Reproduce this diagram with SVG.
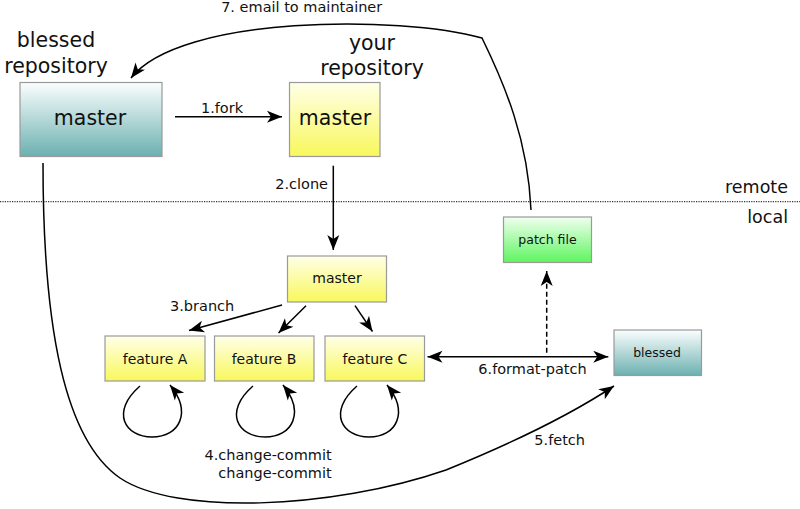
<svg xmlns="http://www.w3.org/2000/svg" width="800" height="509" viewBox="0 0 800 509">
<defs>
<linearGradient id="gTeal" x1="0" y1="0" x2="0" y2="1"><stop offset="0" stop-color="#fbfefe"/><stop offset="1" stop-color="#6cb0b0"/></linearGradient>
<linearGradient id="gYellow" x1="0" y1="0" x2="0" y2="1"><stop offset="0" stop-color="#ffffe8"/><stop offset="1" stop-color="#f8f85c"/></linearGradient>
<linearGradient id="gGreen" x1="0" y1="0" x2="0" y2="1"><stop offset="0" stop-color="#f0fff0"/><stop offset="1" stop-color="#5ef55e"/></linearGradient>
<marker id="ah" markerUnits="userSpaceOnUse" markerWidth="18" markerHeight="14" viewBox="-16 -7 18 14" refX="0" refY="0" orient="auto-start-reverse">
<path d="M0,0 L-15,-6 L-11,0 L-15,6 Z" fill="#000"/>
</marker>
<style>
.box{stroke:#9a9a9a;stroke-width:1.2}
.teal{fill:url(#gTeal)}
.yel{fill:url(#gYellow)}
.grn{fill:url(#gGreen)}
text{font-family:"DejaVu Sans","Liberation Sans",sans-serif;fill:#111}
.big{font-size:20.5px}
.mid{font-size:14px}
.lbl{font-size:14.5px}
.sm{font-size:12.5px}
.side{font-size:17.5px}
.c{text-anchor:middle}
.e{text-anchor:end}
.ln{fill:none;stroke:#000;stroke-width:1.5}
.arr{marker-end:url(#ah)}
</style>
</defs>

<line x1="0" y1="201.7" x2="800" y2="201.7" stroke="#333" stroke-width="1.2" stroke-dasharray="1.2,1.2"/>
<text class="side e" x="788" y="192.5">remote</text>
<text class="side e" x="788" y="222.5">local</text>

<text class="big c" x="56" y="47">blessed</text>
<text class="big c" x="56" y="72.5">repository</text>
<text class="big c" x="372" y="50">your</text>
<text class="big c" x="372" y="75">repository</text>

<g id="blessed-master"><rect class="box teal" x="20" y="82.5" width="142" height="74"/><text class="big c" x="90" y="124.5">master</text></g>
<g id="your-master"><rect class="box yel" x="289.5" y="82.5" width="90.5" height="74"/><text class="big c" x="335" y="124.5">master</text></g>
<g id="local-master"><rect class="box yel" x="287.5" y="256" width="99" height="46"/><text class="mid c" x="337" y="283">master</text></g>
<g id="feature-a"><rect class="box yel" x="105" y="336" width="100" height="45"/><text class="mid c" x="155" y="363.5">feature A</text></g>
<g id="feature-b"><rect class="box yel" x="214.5" y="336" width="99.5" height="45"/><text class="mid c" x="264" y="363.5">feature B</text></g>
<g id="feature-c"><rect class="box yel" x="325" y="336" width="99.5" height="45"/><text class="mid c" x="375" y="363.5">feature C</text></g>
<g id="patch-file"><rect class="box grn" x="503.5" y="217" width="88" height="45.5"/><text class="sm c" x="547.5" y="243.5">patch file</text></g>
<g id="blessed-local"><rect class="box teal" x="614" y="330" width="87.5" height="45.5"/><text class="sm c" x="657" y="357">blessed</text></g>

<g id="connectors">
<line class="ln arr" x1="175" y1="116.7" x2="282" y2="116.7"/>
<line class="ln arr" x1="333.3" y1="165.7" x2="333.3" y2="250"/>
<line class="ln arr" x1="282" y1="305" x2="189" y2="330.5"/>
<line class="ln arr" x1="306" y1="305.7" x2="278.5" y2="333"/>
<line class="ln arr" x1="355" y1="305.7" x2="372.5" y2="331.5"/>
<path id="loop-a" class="ln arr" d="M140,386 C110,412 125,437 152,437 C180,437 192,412 170,385"/>
<path class="ln arr" d="M253,386 C223,412 238,437 265,437 C293,437 305,412 283,385"/>
<path class="ln arr" d="M357,386 C327,412 342,437 369,437 C397,437 409,412 387,385"/>
<line class="ln" x1="427.5" y1="356.7" x2="608.3" y2="356.7" marker-start="url(#ah)" marker-end="url(#ah)"/>
<line class="ln arr" x1="546.7" y1="352.7" x2="546.7" y2="271" stroke-dasharray="5,3"/>
<path class="ln arr" d="M43,163 C43,330 65,440 120,478 C175,515 330,510 446,470 C520,440 570,415 614,386"/>
<path class="ln arr" d="M531,210 C528,140 505,85 482,38 C400,15 180,15 131,78"/>
</g>

<text class="lbl c" x="222" y="113">1.fork</text>
<text class="lbl e" x="328" y="189">2.clone</text>
<text class="lbl" x="170" y="311">3.branch</text>
<text class="lbl e" x="331.7" y="460">4.change-commit</text>
<text class="lbl e" x="331.7" y="478">change-commit</text>
<text class="lbl" x="534.3" y="444.5">5.fetch</text>
<text class="lbl" x="478.3" y="373.5">6.format-patch</text>
<text class="lbl c" x="301.7" y="12">7. email to maintainer</text>
</svg>
